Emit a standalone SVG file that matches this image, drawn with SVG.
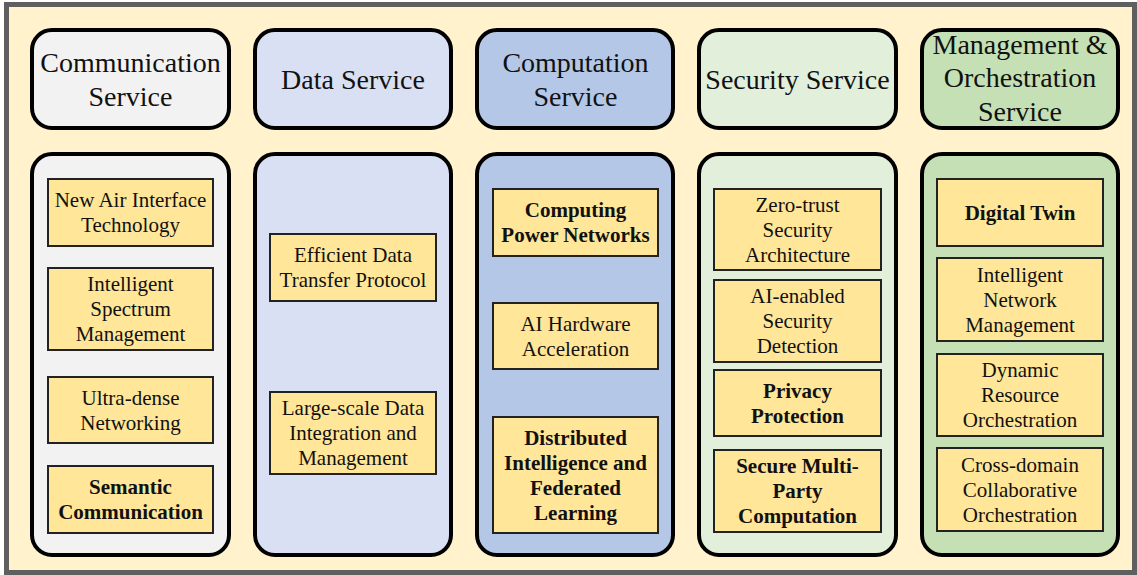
<svg xmlns="http://www.w3.org/2000/svg" width="1137" height="575" viewBox="0 0 1137 575">
<style>
.hdr{stroke:#000;stroke-width:4}
.body{stroke:#000;stroke-width:4}
.item{fill:#ffe699;stroke:#222;stroke-width:2}
text{font-family:"Liberation Serif", "Times New Roman", serif;fill:#111;text-anchor:middle}
.h{font-size:28px}
.t{font-size:21px}
.b{font-size:21px;font-weight:bold}
</style>
<rect x="6.5" y="4.5" width="1128" height="568" fill="#fff2cc" stroke="#5f5f5f" stroke-width="5"/>
<g id="connectors"></g>

<g id="comm-header">
<rect class="hdr" x="32" y="30" width="197" height="98" rx="20" fill="#f2f2f2"/>
<text class="h" x="130.5" y="71.5">Communication</text>
<text class="h" x="130.5" y="105.5">Service</text>
</g>
<g id="data-header">
<rect class="hdr" x="255" y="30" width="196" height="98" rx="20" fill="#dae0f3"/>
<text class="h" x="353" y="88.5">Data Service</text>
</g>
<g id="comp-header">
<rect class="hdr" x="477" y="30" width="196" height="98" rx="20" fill="#b4c7e7"/>
<text class="h" x="575.5" y="71.5">Computation</text>
<text class="h" x="575.5" y="105.5">Service</text>
</g>
<g id="sec-header">
<rect class="hdr" x="699" y="30" width="197" height="98" rx="20" fill="#e2efda"/>
<text class="h" x="797.5" y="88.5">Security Service</text>
</g>
<g id="mgmt-header">
<rect class="hdr" x="922" y="30" width="196" height="98" rx="20" fill="#c5e0b4"/>
<text class="h" x="1020" y="53.5">Management &amp;</text>
<text class="h" x="1020" y="87">Orchestration</text>
<text class="h" x="1020" y="120.5">Service</text>
</g>

<g id="comm-body"><rect class="body" x="32" y="154" width="197" height="401" rx="20" fill="#f2f2f2"/></g>
<g id="data-body"><rect class="body" x="255" y="154" width="196" height="401" rx="20" fill="#dae0f3"/></g>
<g id="comp-body"><rect class="body" x="477" y="154" width="196" height="401" rx="20" fill="#b4c7e7"/></g>
<g id="sec-body"><rect class="body" x="699" y="154" width="197" height="401" rx="20" fill="#e2efda"/></g>
<g id="mgmt-body"><rect class="body" x="922" y="154" width="196" height="401" rx="20" fill="#c5e0b4"/></g>

<g id="comm-1"><rect class="item" x="48" y="179" width="165" height="67"/>
<text class="t" x="130.5" y="207">New Air Interface</text><text class="t" x="130.5" y="232">Technology</text></g>
<g id="comm-2"><rect class="item" x="48" y="268" width="165" height="82"/>
<text class="t" x="130.5" y="291">Intelligent</text><text class="t" x="130.5" y="316">Spectrum</text><text class="t" x="130.5" y="341">Management</text></g>
<g id="comm-3"><rect class="item" x="48" y="377" width="165" height="66"/>
<text class="t" x="130.5" y="405">Ultra-dense</text><text class="t" x="130.5" y="430">Networking</text></g>
<g id="comm-4"><rect class="item" x="48" y="466" width="165" height="67"/>
<text class="b" x="130.5" y="494">Semantic</text><text class="b" x="130.5" y="519">Communication</text></g>

<g id="data-1"><rect class="item" x="270" y="234" width="166" height="67"/>
<text class="t" x="353" y="262">Efficient Data</text><text class="t" x="353" y="287">Transfer Protocol</text></g>
<g id="data-2"><rect class="item" x="270" y="392" width="166" height="82"/>
<text class="t" x="353" y="415">Large-scale Data</text><text class="t" x="353" y="440">Integration and</text><text class="t" x="353" y="465">Management</text></g>

<g id="comp-1"><rect class="item" x="493" y="189" width="165" height="67"/>
<text class="b" x="575.5" y="217">Computing</text><text class="b" x="575.5" y="242">Power Networks</text></g>
<g id="comp-2"><rect class="item" x="493" y="303" width="165" height="66"/>
<text class="t" x="575.5" y="330.5">AI Hardware</text><text class="t" x="575.5" y="355.5">Acceleration</text></g>
<g id="comp-3"><rect class="item" x="493" y="417" width="165" height="116"/>
<text class="b" x="575.5" y="444.5">Distributed</text><text class="b" x="575.5" y="469.5">Intelligence and</text><text class="b" x="575.5" y="494.5">Federated</text><text class="b" x="575.5" y="519.5">Learning</text></g>

<g id="sec-1"><rect class="item" x="714" y="189" width="167" height="81"/>
<text class="t" x="797.5" y="211.5">Zero-trust</text><text class="t" x="797.5" y="236.5">Security</text><text class="t" x="797.5" y="261.5">Architecture</text></g>
<g id="sec-2"><rect class="item" x="714" y="280" width="167" height="82"/>
<text class="t" x="797.5" y="303">AI-enabled</text><text class="t" x="797.5" y="328">Security</text><text class="t" x="797.5" y="353">Detection</text></g>
<g id="sec-3"><rect class="item" x="714" y="370" width="167" height="66"/>
<text class="b" x="797.5" y="397.5">Privacy</text><text class="b" x="797.5" y="422.5">Protection</text></g>
<g id="sec-4"><rect class="item" x="714" y="450" width="167" height="82"/>
<text class="b" x="797.5" y="473">Secure Multi-</text><text class="b" x="797.5" y="498">Party</text><text class="b" x="797.5" y="523">Computation</text></g>

<g id="mgmt-1"><rect class="item" x="937" y="179" width="166" height="67"/>
<text class="b" x="1020" y="219.5">Digital Twin</text></g>
<g id="mgmt-2"><rect class="item" x="937" y="258" width="166" height="83"/>
<text class="t" x="1020" y="281.5">Intelligent</text><text class="t" x="1020" y="306.5">Network</text><text class="t" x="1020" y="331.5">Management</text></g>
<g id="mgmt-3"><rect class="item" x="937" y="354" width="166" height="82"/>
<text class="t" x="1020" y="377">Dynamic</text><text class="t" x="1020" y="402">Resource</text><text class="t" x="1020" y="427">Orchestration</text></g>
<g id="mgmt-4"><rect class="item" x="937" y="448" width="166" height="83"/>
<text class="t" x="1020" y="471.5">Cross-domain</text><text class="t" x="1020" y="496.5">Collaborative</text><text class="t" x="1020" y="521.5">Orchestration</text></g>
</svg>
